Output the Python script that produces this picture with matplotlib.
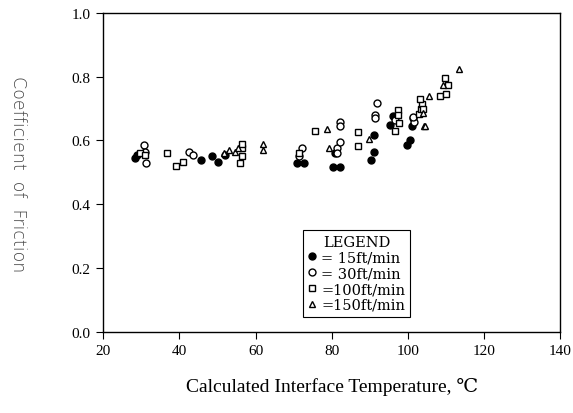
import matplotlib.pyplot as plt
from matplotlib.ticker import FormatStrFormatter

# Coefficient of friction vs calculated interface temperature, 4 sliding speeds
x_15 = [28.3, 29.0, 45.6, 48.5, 50.2, 52.0, 70.8, 72.8, 80.4, 82.2, 80.9, 90.2,
        91.2, 91.0, 95.4, 96.2, 99.8, 100.6, 101.0, 101.3]
y_15 = [0.545, 0.555, 0.54, 0.55, 0.533, 0.555, 0.53, 0.53, 0.517, 0.517, 0.56, 0.54,
        0.564, 0.617, 0.65, 0.677, 0.586, 0.602, 0.646, 0.67]

x_30 = [30.8, 31.0, 31.2, 42.5, 43.6, 71.5, 72.3, 81.4, 82.2, 82.2, 82.2, 81.4,
        91.3, 91.3, 92.0, 96.5, 101.6, 101.3]
y_30 = [0.585, 0.565, 0.53, 0.564, 0.555, 0.55, 0.575, 0.577, 0.595, 0.658, 0.646, 0.56,
        0.68, 0.67, 0.718, 0.665, 0.658, 0.674]

x_100 = [29.6, 31.0, 36.8, 39.2, 41.0, 55.8, 56.5, 56.5, 56.5, 71.5, 75.7, 86.8,
         87.0, 96.7, 97.5, 97.5, 97.7, 103.0, 103.4, 103.7, 104.0, 103.2, 108.3,
         109.9, 110.4, 109.6]
y_100 = [0.56, 0.555, 0.56, 0.52, 0.533, 0.53, 0.55, 0.575, 0.59, 0.56, 0.63, 0.627,
         0.583, 0.63, 0.696, 0.68, 0.655, 0.683, 0.70, 0.715, 0.70, 0.73, 0.74,
         0.746, 0.774, 0.796]

x_150 = [51.6, 53.0, 54.5, 55.5, 61.9, 62.0, 79.3, 78.8, 89.7, 104.2, 104.0, 105.5,
         109.1, 104.5, 113.5]
y_150 = [0.56, 0.57, 0.565, 0.575, 0.59, 0.57, 0.577, 0.636, 0.605, 0.646, 0.687, 0.74,
         0.774, 0.646, 0.824]

serif = ['Liberation Serif', 'DejaVu Serif', 'DejaVu Sans']

fig = plt.figure(figsize=(5.73, 4.14), dpi=100)
ax = fig.add_axes([0.18, 0.196, 0.798, 0.7705])

ms = 5
ax.plot(x_15, y_15, 'o', ms=ms, color='black', mec='black', label='= 15ft/min')
ax.plot(x_30, y_30, 'o', ms=ms, mfc='white', mec='black', mew=1.0, label='= 30ft/min')
ax.plot(x_100, y_100, 's', ms=ms, mfc='white', mec='black', mew=1.0, label='=100ft/min')
ax.plot(x_150, y_150, '^', ms=ms, mfc='white', mec='black', mew=1.0, label='=150ft/min')

ax.set_xlim(20, 140)
ax.set_ylim(0, 1.0)
ax.set_xticks([20, 40, 60, 80, 100, 120, 140])
ax.set_yticks([0.0, 0.2, 0.4, 0.6, 0.8, 1.0])
ax.yaxis.set_major_formatter(FormatStrFormatter('%.1f'))
ax.tick_params(direction='out', length=5, width=0.8, labelsize=11, pad=4)
for lab in ax.get_xticklabels() + ax.get_yticklabels():
    lab.set_family(serif)

for s in ax.spines.values():
    s.set_linewidth(1.0)

ax.set_xlabel('Calculated Interface Temperature, ℃', family=serif, fontsize=14, labelpad=14)
fig.text(0.032, 0.58, 'Coefficient  of  Friction', rotation=-90, family='DejaVu Sans',
         fontweight='light', fontsize=12.5, ha='center', va='center', color='#444444')

leg = ax.legend(title='LEGEND', loc='lower left', bbox_to_anchor=(0.437, 0.047),
                fancybox=False, edgecolor='black', framealpha=1, handlelength=0.6,
                handletextpad=0.3, borderpad=0.35, borderaxespad=0, labelspacing=0.12,
                prop={'family': ['DejaVu Serif'], 'size': 10.5})
leg.get_title().set_family(['DejaVu Serif'])
leg.get_title().set_fontsize(10.5)
leg.get_frame().set_linewidth(0.8)

fig.savefig('out.png', dpi=100)
